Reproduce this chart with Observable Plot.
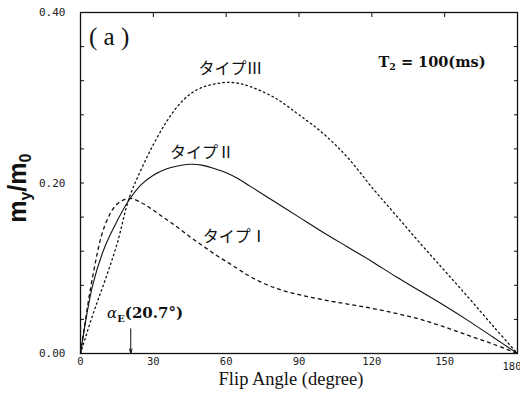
<!DOCTYPE html>
<html>
<head>
<meta charset="utf-8">
<script src="https://cdn.jsdelivr.net/npm/d3@7"></script>
<script src="https://cdn.jsdelivr.net/npm/@observablehq/plot@0.6"></script>
<style>
  html, body { margin: 0; padding: 0; background: #fff; }
</style>
</head>
<body>
<div id="chart"></div>
<script>
// Flip angle samples (degree)
const angles = [0, 5, 10, 15, 20, 25, 30, 35, 40, 45, 50, 55, 60, 65, 70, 80, 90, 100, 110, 120, 130, 140, 150, 160, 170, 180];
// my/m0 for each type
const typeI   = [0, 0.090, 0.150, 0.175, 0.182, 0.177, 0.168, 0.158, 0.148, 0.137, 0.127, 0.117, 0.108, 0.099, 0.090, 0.077, 0.069, 0.063, 0.058, 0.053, 0.047, 0.040, 0.031, 0.021, 0.011, 0];
const typeII  = [0, 0.080, 0.125, 0.155, 0.180, 0.198, 0.209, 0.216, 0.220, 0.222, 0.221, 0.217, 0.212, 0.205, 0.196, 0.178, 0.160, 0.142, 0.125, 0.108, 0.090, 0.073, 0.056, 0.038, 0.019, 0];
const typeIII = [0, 0.045, 0.085, 0.128, 0.182, 0.216, 0.245, 0.270, 0.290, 0.304, 0.312, 0.316, 0.318, 0.317, 0.313, 0.300, 0.280, 0.258, 0.230, 0.195, 0.162, 0.129, 0.097, 0.065, 0.032, 0];
const seriesNames = ["タイプⅠ", "タイプⅡ", "タイプⅢ"];
const seriesDash = ["4,3", null, "1.5,3.2"];

// Ticks
const xTicks = [0, 30, 60, 90, 120, 150];
const xLastTick = [180];
const yLabelTicks = [0, 0.2, 0.4];
const yMinorTicks = [0.04, 0.08, 0.12, 0.16, 0.2, 0.24, 0.28, 0.32, 0.36];

// Annotation labels (data coordinates)
const labelText = ["タイプⅢ", "タイプⅡ", "タイプⅠ"];
const labelX = [61.8, 50, 63.5];
const labelY = [0.334, 0.235, 0.137];
const alphaE = 20.7;

const series = [typeI, typeII, typeIII];
const rows = [];
series.forEach((vals, s) => angles.forEach((a, i) => rows.push({angle: a, m: vals[i], type: seriesNames[s]})));
const labels = labelText.map((t, i) => ({t, x: labelX[i], y: labelY[i]}));

const serif = "'Liberation Serif', 'DejaVu Serif', serif";
const wideSerif = "'DejaVu Serif', 'Liberation Serif', serif";
const mono = "'DejaVu Sans Mono', 'Liberation Mono', monospace";
const cjk = "'Noto Sans CJK JP', sans-serif";

const lineMarks = seriesNames.map((name, s) => Plot.line(rows.filter(d => d.type === name), {
  x: "angle", y: "m", stroke: "#111", strokeWidth: s === 1 ? 1.1 : 1.3,
  strokeDasharray: seriesDash[s], strokeLinecap: s === 2 ? "round" : "butt", curve: "catmull-rom"
}));

const tickFont = {fontFamily: mono, fontSize: 10.5, fill: "#222"};

const plot = Plot.plot({
  width: 520,
  height: 403,
  marginLeft: 80,
  marginRight: 3,
  marginTop: 12,
  marginBottom: 50,
  style: {background: "#fff", color: "#111"},
  x: {domain: [0, 180]},
  y: {domain: [0, 0.4]},
  marks: [
    Plot.axisX({ticks: xTicks, tickSize: 0, tickPadding: 4, label: null, ...tickFont}),
    Plot.text(xLastTick, {x: d => d, frameAnchor: "bottom", dy: 9, textAnchor: "end", dx: 4, lineAnchor: "top", ...tickFont}),
    Plot.axisX({ticks: xTicks.concat(xLastTick), anchor: "top", tickSize: -4, tickFormat: () => "", label: null}),
    Plot.axisY({ticks: yLabelTicks, tickSize: 0, tickPadding: 15, tickFormat: d3.format(".2f"), label: null, fontFamily: mono, fontSize: 11, fill: "#222"}),
    Plot.axisY({ticks: yMinorTicks, tickSize: -4, tickFormat: () => "", label: null}),
    Plot.axisY({ticks: yMinorTicks, anchor: "right", tickSize: -4, tickFormat: () => "", label: null}),
    Plot.frame({stroke: "#111", strokeWidth: 1.3}),
    ...lineMarks,
    Plot.text(labels, {x: "x", y: "y", text: "t", fontFamily: cjk, fontSize: 16, fill: "#111"}),
    Plot.arrow([alphaE], {x1: d => d, x2: d => d, y1: 0.029, y2: 0, stroke: "#111", strokeWidth: 1, headLength: 7, headAngle: 30}),
    Plot.text(["Flip Angle (degree)"], {frameAnchor: "bottom", dy: 31, dx: -8, fontFamily: serif, fontSize: 18.5, fill: "#111"})
  ]
});

document.getElementById("chart").appendChild(plot);

const svg = d3.select(plot);
const sx = plot.scale("x"), sy = plot.scale("y");

// (a)
svg.append("text")
  .attr("x", sx.apply(12)).attr("y", sy.apply(0.368))
  .attr("text-anchor", "middle").attr("dominant-baseline", "middle")
  .style("font-family", serif).style("font-size", "25px").style("fill", "#111")
  .text("( a )");

// T2 = 100(ms)
const t2 = svg.append("text")
  .attr("x", sx.apply(145)).attr("y", sy.apply(0.336))
  .attr("text-anchor", "middle")
  .style("font-family", wideSerif).style("font-size", "14.5px").style("font-weight", "bold").style("fill", "#111");
t2.append("tspan").text("T");
t2.append("tspan").attr("dy", 3).style("font-size", "9.5px").text("2");
t2.append("tspan").attr("dy", -3).text(" = 100(ms)");

// alpha_E(20.7°)
const ae = svg.append("text")
  .attr("x", sx.apply(26.8)).attr("y", sy.apply(0.041))
  .attr("text-anchor", "middle")
  .style("font-family", wideSerif).style("font-size", "15px").style("font-weight", "bold").style("fill", "#111");
ae.append("tspan").style("font-weight", "normal").style("font-style", "italic").text("α");
ae.append("tspan").attr("dy", 4).style("font-size", "10px").text("E");
ae.append("tspan").attr("dy", -4).text("(" + alphaE + "°)");

// y-axis title my/m0
const yl = svg.append("text")
  .attr("transform", `translate(26, ${sy.apply(0.205) + 10}) rotate(-90)`)
  .attr("text-anchor", "middle")
  .style("font-family", "'Liberation Sans', Arial, sans-serif").style("font-size", "25px").style("font-weight", "bold").style("fill", "#111");
yl.append("tspan").text("m");
yl.append("tspan").attr("dy", 5).style("font-size", "16px").text("y");
yl.append("tspan").attr("dy", -5).text("/m");
yl.append("tspan").attr("dy", 5).style("font-size", "16px").text("0");
</script>
</body>
</html>
